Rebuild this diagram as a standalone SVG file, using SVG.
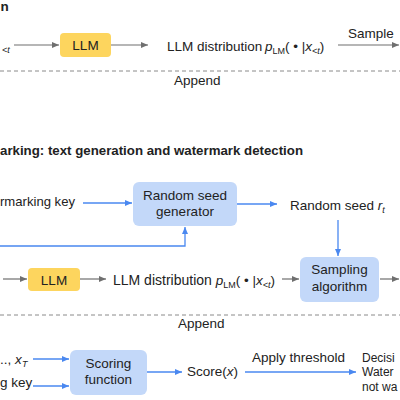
<svg xmlns="http://www.w3.org/2000/svg" width="400" height="400" viewBox="0 0 400 400">
<style>
text{font-family:"Liberation Sans",Arial,sans-serif;font-size:13.5px;fill:#222}
.b{font-weight:bold}
.i{font-style:italic}
.s{font-size:9px}
.m{text-anchor:middle}
.dc{font-size:12px}
.g{stroke:#6f6f6f;stroke-width:1.2;fill:none;marker-end:url(#ag)}
.bl{stroke:#4a88f0;stroke-width:1.3;fill:none;marker-end:url(#ab)}
.d{stroke:#8a8a8a;stroke-width:1;stroke-dasharray:4 3;fill:none}
.y{fill:#fdd55e}
.bx{fill:#c3d8f9}
</style>
<defs>
<marker id="ag" markerUnits="userSpaceOnUse" markerWidth="8" markerHeight="8" refX="7" refY="3" orient="auto"><path d="M0,0 L7,3 L0,6 z" fill="#6f6f6f"/></marker>
<marker id="ab" markerUnits="userSpaceOnUse" markerWidth="8" markerHeight="8" refX="7" refY="3" orient="auto"><path d="M0,0 L7,3 L0,6 z" fill="#4a88f0"/></marker>
</defs>

<g id="titles">
<text class="b" x="0.5" y="11">n</text>
<text class="b" x="0" y="155" textLength="303" lengthAdjust="spacingAndGlyphs">arking: text generation and watermark detection</text>
</g>

<g id="connectors">
<line class="g" x1="14" y1="45" x2="59" y2="45"/>
<line class="g" x1="111" y1="45" x2="148" y2="45"/>
<line class="g" x1="338" y1="45" x2="399" y2="45"/>
<line class="d" x1="0" y1="71" x2="400" y2="71"/>
<line class="bl" x1="83" y1="203" x2="132" y2="203"/>
<line class="bl" x1="237" y1="204" x2="277" y2="204"/>
<polyline class="bl" points="0,246 185,246 185,227"/>
<line class="bl" x1="338" y1="220" x2="338" y2="256"/>
<line class="g" x1="3" y1="279" x2="27" y2="279"/>
<line class="g" x1="80" y1="279" x2="106" y2="279"/>
<line class="g" x1="282" y1="279" x2="299" y2="279"/>
<line class="g" x1="380" y1="279" x2="399" y2="279"/>
<line class="d" x1="0" y1="315" x2="400" y2="315"/>
<line class="bl" x1="33" y1="359" x2="69" y2="359"/>
<line class="bl" x1="33" y1="386" x2="69" y2="386"/>
<line class="bl" x1="147" y1="372" x2="182" y2="372"/>
<line class="bl" x1="245" y1="372" x2="356" y2="372"/>
</g>

<g id="top-input"><text class="s i" x="2" y="53">&lt;t</text></g>
<g id="llm-top"><rect class="y" x="60" y="33" width="51" height="24" rx="4"/><text class="m" x="85.5" y="50">LLM</text></g>
<g id="dist-top"><text x="167" y="51">LLM distribution <tspan class="i" x="265">p</tspan><tspan class="s" dy="3">LM</tspan><tspan dy="-3">( • |</tspan><tspan class="i">x</tspan><tspan class="s i" dy="3">&lt;t</tspan><tspan dy="-3">)</tspan></text></g>
<g id="sample-label"><text x="348" y="38">Sample</text></g>
<g id="append-top"><text x="174" y="85">Append</text></g>

<g id="wm-key"><text x="0" y="206" textLength="75" lengthAdjust="spacingAndGlyphs">rmarking key</text></g>
<g id="rsg"><rect class="bx" x="133" y="182" width="104" height="44" rx="6"/><text class="m" x="185" y="200">Random seed</text><text class="m" x="185" y="216">generator</text></g>
<g id="seed"><text x="290" y="210">Random seed <tspan class="i">r</tspan><tspan class="s i" dy="3">t</tspan></text></g>
<g id="llm-mid"><rect class="y" x="28" y="268" width="52" height="23" rx="4"/><text class="m" x="54" y="285">LLM</text></g>
<g id="dist-mid"><text x="113" y="285"><tspan font-size="14">LLM distribution </tspan><tspan class="i">p</tspan><tspan class="s" dy="3">LM</tspan><tspan dy="-3">( • |</tspan><tspan class="i">x</tspan><tspan class="s i" dy="3">&lt;t</tspan><tspan dy="-3">)</tspan></text></g>
<g id="sampling"><rect class="bx" x="300" y="257" width="79" height="45" rx="6"/><text class="m" x="339.5" y="274">Sampling</text><text class="m" x="339.5" y="291">algorithm</text></g>
<g id="append-mid"><text x="178" y="328">Append</text></g>

<g id="text-in"><text x="0" y="364">.., <tspan class="i">x</tspan></text><text class="s i" x="22" y="367">T</text></g>
<g id="key-in"><text x="0" y="387">g key</text></g>
<g id="scoring"><rect class="bx" x="70" y="350" width="77" height="45" rx="6"/><text class="m" x="108.5" y="368">Scoring</text><text class="m" x="108.5" y="384">function</text></g>
<g id="score"><text x="187" y="376">Score(<tspan class="i">x</tspan>)</text></g>
<g id="thresh"><text x="252" y="362">Apply threshold</text></g>
<g id="decision"><text class="dc" x="362" y="362">Decisi</text><text class="dc" x="362" y="376">Water</text><text class="dc" x="362" y="391">not wa</text></g>
</svg>
